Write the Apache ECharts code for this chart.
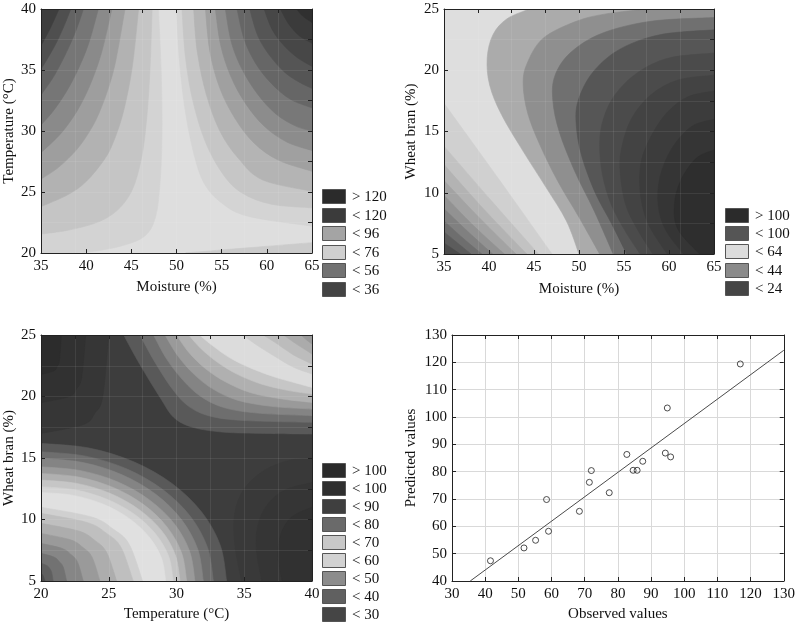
<!DOCTYPE html>
<html><head><meta charset="utf-8">
<script src="https://cdn.jsdelivr.net/npm/echarts@6/dist/echarts.min.js"></script>
<style>html,body{margin:0;padding:0;background:#fff}#c{width:798px;height:624px}</style>
</head><body><div id="c"></div><script>
// ---------- Panel 1: Moisture (x) vs Temperature (y) contour boundaries ----------
const p1Curves = [
  [],
  [[48.0,40],[48.3,35],[48.4,30],[48.2,26],[47.7,23],[46.5,21.4],[44.0,20.6],[40.5,20.1],[38.0,20]],
  [[47.3,40],[47.1,35.67],[46.8,31.88],[46.3,28.53],[45.5,25.96],[44.5,24.4],[43.0,23.23],[41.0,22.45],[38.0,21.87],[35,21.55]],
  [[45.8,40],[45.3,36.39],[44.8,33.91],[44.0,31.23],[43.0,29.08],[42.0,27.65],[40.0,25.86],[38.0,24.79],[35,23.8]],
  [[44.3,40],[43.3,35.85],[42.5,33.62],[41.5,31.6],[40.5,30.12],[39.0,28.52],[37.0,27.06],[35,26.05]],
  [[42.85,40],[41.8,36.69],[40.8,34.45],[39.7,32.6],[38.5,31.07],[37.0,29.63],[35,28.22]],
  [[41.35,40],[40.3,37.23],[39.2,35.2],[38.0,33.47],[36.5,31.78],[35,30.48]],
  [[39.7,40],[39.0,38.49],[38.0,36.74],[36.5,34.58],[35,32.95]],
  [[38.3,40],[37.5,38.52],[36.5,36.95],[35,35.05]],
  [[37.0,40],[36.0,38.38],[35,37.0]],
  [[50.0,40],[50.3,36],[50.9,32],[51.8,28.5],[53.0,25.8],[55.0,24.1],[58.0,23.0],[65,22.2]],
  [[50.6,40],[51.0,36],[51.8,32.5],[53.2,29.1],[55.2,26.4],[57.3,24.9],[60.5,24.0],[65,23.7]],
  [[51.9,40],[52.3,36.5],[53.3,33],[54.8,30],[56.8,27.8],[59.5,26.0],[65,25.06]],
  [[53.2,40],[53.7,36.5],[54.8,33.5],[56.5,31],[58.6,29],[61.3,27.6],[65,26.7]],
  [[54.3,40],[54.9,37],[56.0,34.5],[57.6,32.3],[59.7,30.4],[62.2,29.1],[65,28.4]],
  [[55.4,40],[56.1,37.2],[57.3,35],[59.0,33],[61.0,31.4],[63.2,30.4],[65,30.0]],
  [[56.7,40],[57.5,37.5],[58.8,35.5],[60.5,33.9],[62.6,32.6],[65,31.9]],
  [[58.1,40],[59.0,37.8],[60.3,36.2],[62.0,34.8],[63.6,34.0],[65,33.5]],
  [[59.7,40],[60.6,38.3],[61.9,37.0],[63.4,36.0],[65,35.3]],
  [[61.5,40],[62.4,38.8],[63.6,37.8],[65,37.2]],
  [[63.3,40],[64.0,39.4],[65,38.9]],
  [[51.0,20],[55.0,20.25],[60.0,20.55],[65,20.85]]
];
const p1Close = [[],['bl','tl'],['tl'],['tl'],['tl'],['tl'],['tl'],['tl'],['tl'],['tl'],
  ['tr'],['tr'],['tr'],['tr'],['tr'],['tr'],['tr'],['tr'],['tr'],['tr'],['tr'],['br']];
const p1Fill = ['#dedede','#d3d3d3','#c5c5c5','#b2b2b2','#9e9e9e','#8a8a8a','#767676','#636363','#4f4f4f','#3e3e3e',
  '#d4d4d4','#c6c6c6','#b4b4b4','#a0a0a0','#8c8c8c','#787878','#666666','#555555','#474747','#3b3b3b','#303030','#cbcbcb'];

// ---------- Panel 2: Moisture (x) vs Wheat bran (y) ----------
const p2Curves = [
  [],
  [[35,17.3],[41.0,11.2],[47.0,5]],
  [[35,13.8],[40.2,9.4],[45.5,5]],
  [[35,12.3],[39.5,8.6],[44.2,5]],
  [[35,11.0],[39.0,7.9],[43.0,5]],
  [[35,9.8],[38.3,7.3],[41.7,5]],
  [[35,8.7],[37.7,6.8],[40.4,5]],
  [[35,7.7],[37.1,6.3],[39.2,5]],
  [[35,6.8],[36.5,5.9],[38.0,5]],
  [[35,5.9],[35.9,5.45],[36.8,5]],
  [[44.5,25],[42.0,24.2],[40.44,22.9],[39.8,21.0],[40.07,18.8],[41.37,16.4],[43.78,13.4],[46.37,10.4],[48.6,7.7],[50.0,5]],
  [[57.5,25],[53.0,24.6],[49.7,24.0],[46.0,22.6],[44.2,20.5],[43.8,18.8],[44.3,16.5],[45.6,14.0],[47.6,11.0],[50.0,8.0],[52.3,5]],
  [[65,24.3],[58,24.0],[52.5,23.0],[49.0,21.4],[47.3,19.5],[47.1,17.5],[47.8,15.0],[49.5,11.8],[51.7,8.5],[53.8,5]],
  [[65,23.3],[59,22.9],[54.5,21.7],[51.5,19.8],[49.9,17.5],[49.7,15.5],[50.3,13.0],[51.8,10.0],[53.6,7.5],[55.3,5]],
  [[65,21.4],[60,21.0],[56.5,19.8],[54.0,18.0],[52.7,16.0],[52.3,14.0],[52.6,11.5],[53.6,9.0],[55.2,6.8],[56.8,5]],
  [[65,19.6],[61,19.2],[58,18.0],[55.8,16.0],[54.7,13.5],[54.6,11.5],[55.2,9.0],[56.5,7.0],[58.2,5]],
  [[65,18.3],[62,17.8],[59.5,16.3],[57.6,14.0],[56.8,12.0],[56.9,9.5],[57.8,7.3],[59.8,5]],
  [[65,16.0],[62.5,15.4],[60.3,13.6],[59.0,11.3],[58.8,9.0],[59.6,7.0],[61.6,5]],
  [[65,13.5],[63,12.8],[61.3,11.0],[60.6,9.0],[61.0,7.0],[63.4,5]]
];
const p2Close = [[],['bl'],['bl'],['bl'],['bl'],['bl'],['bl'],['bl'],['bl'],['bl'],
  ['br','tr'],['br','tr'],['br'],['br'],['br'],['br'],['br'],['br'],['br']];
const p2Fill = ['#dedede','#d0d0d0','#c2c2c2','#b3b3b3','#a3a3a3','#929292','#808080','#6e6e6e','#5c5c5c','#4b4b4b',
  '#ababab','#8f8f8f','#707070','#565656','#4b4b4b','#434343','#3c3c3c','#353535','#2e2e2e'];

// ---------- Panel 3: Temperature (x) vs Wheat bran (y) ----------
const p3Curves = [
  [],
  [[25.0,25],[24.55,19.96],[23.97,18.65],[23.15,17.73],[20,17.0]],
  [[23.3,25],[23.0,21.54],[22.62,20.63],[22.08,20.0],[20,19.5]],
  [[21.5,25],[21.36,22.98],[21.19,22.46],[20.95,22.09],[20,21.8]],
  [[26.1,25],[27.3,22.6],[28.8,19.9],[29.8,18.3],[31.2,17.5],[33.5,17.1],[36.5,17.0],[40,16.95]],
  [[27.3,25],[28.4,22.8],[29.7,20.6],[30.9,19.2],[32.5,18.4],[35,18.05],[40,17.9]],
  [[28.3,25],[29.3,23.0],[30.5,21.3],[31.8,20.0],[33.5,19.1],[36,18.65],[40,18.44]],
  [[29.15,25],[30.1,23.3],[31.3,21.8],[32.7,20.6],[34.5,19.7],[37,19.2],[40,18.98]],
  [[30.0,25],[30.9,23.6],[32.1,22.3],[33.6,21.2],[35.5,20.3],[37.8,19.8],[40,19.52]],
  [[30.9,25],[31.8,23.9],[33.0,22.8],[34.5,21.8],[36.3,21.0],[38.2,20.5],[40,20.2]],
  [[31.7,25],[32.7,24.1],[34.0,23.1],[35.5,22.3],[37.2,21.6],[38.8,21.1],[40,20.74]],
  [[34.9,25],[35.9,24.2],[37.2,23.3],[38.6,22.4],[40,21.83]],
  [[36.4,25],[37.4,24.3],[38.6,23.4],[40,22.64]],
  [[37.9,25],[38.8,24.3],[40,23.45]],
  [[39.2,25],[39.6,24.6],[40,24.27]],
  [[20,16.19],[23.55,15.81],[26.85,14.69],[29.69,12.91],[31.86,10.6],[33.23,7.9],[33.7,5]],
  [[20,15.51],[23.29,15.15],[26.36,14.10],[28.99,12.43],[31.02,10.26],[32.29,7.72],[32.72,5]],
  [[20,14.97],[23.10,14.63],[25.99,13.63],[28.47,12.05],[30.37,9.99],[31.57,7.58],[31.98,5]],
  [[20,14.29],[22.94,13.97],[25.68,13.05],[28.03,11.57],[29.84,9.65],[30.97,7.41],[31.36,5]],
  [[20,13.75],[22.78,13.45],[25.38,12.58],[27.60,11.19],[29.31,9.38],[30.38,7.27],[30.75,5]],
  [[20,13.21],[22.66,12.93],[25.13,12.11],[27.25,10.80],[28.89,9.11],[29.91,7.13],[30.26,5]],
  [[20,12.67],[22.53,12.41],[24.88,11.64],[26.90,10.42],[28.45,8.84],[29.43,6.99],[29.76,5]],
  [[20,12.2],[22.38,11.96],[24.6,11.24],[26.5,10.09],[27.97,8.6],[28.89,6.86],[29.2,5]],
  [[27.5,5],[26.5,8.0],[25.3,9.24],[23.75,10.2],[20,11.0]],
  [[26.81,5],[25.9,7.75],[24.82,8.89],[23.4,9.76],[20,10.5]],
  [[25.58,5],[24.83,7.35],[23.95,8.32],[22.79,9.06],[20,9.69]],
  [[24.35,5],[23.77,6.94],[23.08,7.74],[22.18,8.35],[20,8.87]],
  [[23.12,5],[22.7,6.53],[22.21,7.16],[21.56,7.65],[20,8.06]],
  [[21.89,5],[21.64,6.13],[21.34,6.59],[20.95,6.95],[20,7.25]],
  [[20.9,5],[20.78,5.72],[20.64,6.02],[20.45,6.25],[20,6.44]],
  [[20.3,5],[20.15,5.45],[20,5.63]],
  [[34.8,5],[34.3,8],[34.3,10.5],[35.0,12.5],[36.5,14.0],[38.3,14.8],[40,15.0]],
  [[36.3,5],[35.9,7.5],[36.0,9.5],[36.7,11.2],[38.0,12.4],[40,13.0]],
  [[37.8,5],[37.5,7],[37.7,8.8],[38.5,10.2],[40,11.0]]
];
const p3Close = [[],['tl'],['tl'],['tl'],
  ['tr'],['tr'],['tr'],['tr'],['tr'],['tr'],['tr'],['tr'],['tr'],['tr'],['tr'],
  ['bl'],['bl'],['bl'],['bl'],['bl'],['bl'],['bl'],['bl'],
  ['bl'],['bl'],['bl'],['bl'],['bl'],['bl'],['bl'],['bl'],
  ['br'],['br'],['br']];
const p3Fill = ['#3d3d3d','#363636','#313131','#2c2c2c',
  '#595959','#6e6e6e','#848484','#9a9a9a','#b0b0b0','#c6c6c6','#dcdcdc',
  '#cdcdcd','#bcbcbc','#ababab','#9a9a9a',
  '#595959','#6e6e6e','#848484','#9a9a9a','#b0b0b0','#c6c6c6','#d4d4d4','#e0e0e0',
  '#d0d0d0','#bfbfbf','#adadad','#9a9a9a','#868686','#727272','#5f5f5f','#4d4d4d',
  '#393939','#353535','#313131'];

// ---------- Panel 4: observed vs predicted ----------
const observed  = [41.6,51.7,55.2,58.5,59.1,68.4,71.4,72.0,77.4,82.7,84.6,85.8,87.5,94.3,94.9,95.9,116.9];
const predicted = [47.4,52.1,54.9,69.8,58.2,65.5,76.1,80.4,72.3,86.3,80.5,80.5,83.8,86.8,103.3,85.4,119.4];
const fitX = [35.5, 130];
const fitY = [40, 124.4];

// ---------- Legends ----------
const p1LegendLabels = ['> 120','< 120','< 96','< 76','< 56','< 36'];
const p1LegendColors = ['#2b2b2b','#3b3b3b','#a4a4a4','#cfcfcf','#727272','#434343'];
const p2LegendLabels = ['> 100','< 100','< 64','< 44','< 24'];
const p2LegendColors = ['#2b2b2b','#555555','#dcdcdc','#8a8a8a','#454545'];
const p3LegendLabels = ['> 100','< 100','< 90','< 80','< 70','< 60','< 50','< 40','< 30'];
const p3LegendColors = ['#2b2b2b','#2f2f2f','#3f3f3f','#6a6a6a','#c8c8c8','#d2d2d2','#8c8c8c','#606060','#454545'];

const FONT = 'Liberation Serif';
function fmt(p){ return p[0].toFixed(2) + ' ' + p[1].toFixed(2); }
function contourSeries(curves, closes, fills, idx, x0, y0) {
  return {
    type: 'custom', xAxisIndex: idx, yAxisIndex: idx, clip: true, silent: true, animation: false, z: 2,
    data: curves.map((c, i) => [x0, y0, i]),
    renderItem: function (params, api) {
      const i = api.value(2);
      const cs = params.coordSys;
      const corner = { tl: [cs.x, cs.y], tr: [cs.x + cs.width, cs.y], bl: [cs.x, cs.y + cs.height], br: [cs.x + cs.width, cs.y + cs.height] };
      const pts = curves[i].map(p => api.coord(p));
      let d;
      if (!pts.length) {
        d = 'M' + fmt(corner.tl) + 'L' + fmt(corner.tr) + 'L' + fmt(corner.br) + 'L' + fmt(corner.bl) + 'Z';
      } else {
        d = 'M' + fmt(pts[0]);
        for (let k = 0; k < pts.length - 1; k++) {
          const p0 = pts[Math.max(k - 1, 0)], p1 = pts[k], p2 = pts[k + 1], p3 = pts[Math.min(k + 2, pts.length - 1)];
          const c1 = [p1[0] + (p2[0] - p0[0]) / 6, p1[1] + (p2[1] - p0[1]) / 6];
          const c2 = [p2[0] - (p3[0] - p1[0]) / 6, p2[1] - (p3[1] - p1[1]) / 6];
          d += 'C' + fmt(c1) + ' ' + fmt(c2) + ' ' + fmt(p2);
        }
        closes[i].forEach(c => { d += 'L' + fmt(corner[c]); });
        d += 'Z';
      }
      return { type: 'path', shape: { pathData: d }, style: { fill: fills[i], stroke: fills[i], lineWidth: 0.6 } };
    }
  };
}

const grids = [
  { left: 41, top: 9, width: 271, height: 244 },
  { left: 444, top: 9, width: 270, height: 245 },
  { left: 41, top: 335, width: 271, height: 246 },
  { left: 452, top: 335, width: 335, height: 246 }
];
const axCol = '#222';
const faint = 'rgba(255,255,255,0.08)';
function xMain(g, min, max, itv, name, gap, split) {
  return { gridIndex: g, type: 'value', min, max, interval: itv, position: 'bottom', z: split ? 0 : 10,
    axisLine: { show: true, onZero: false, lineStyle: { color: axCol, width: 1 } },
    axisTick: { show: true, inside: true, length: 4, lineStyle: { color: axCol } },
    axisLabel: { fontFamily: FONT, fontSize: 15, color: '#111', margin: 6 },
    splitLine: { show: !!split, lineStyle: { color: '#d9d9d9' } },
    name, nameLocation: 'middle', nameGap: gap, nameTextStyle: { fontFamily: FONT, fontSize: 15, color: '#111' } };
}
function yMain(g, min, max, itv, name, gap, split) {
  return { gridIndex: g, type: 'value', min, max, interval: itv, position: 'left', z: split ? 0 : 10,
    axisLine: { show: true, onZero: false, lineStyle: { color: axCol, width: 1 } },
    axisTick: { show: true, inside: true, length: 4, lineStyle: { color: axCol } },
    axisLabel: { fontFamily: FONT, fontSize: 15, color: '#111', margin: 5 },
    splitLine: { show: !!split, lineStyle: { color: '#d9d9d9' } },
    name, nameLocation: 'middle', nameRotate: 90, nameGap: gap, nameTextStyle: { fontFamily: FONT, fontSize: 15, color: '#111' } };
}
function xSec(g, min, max, itv, split) {
  return { gridIndex: g, type: 'value', min, max, interval: itv, position: 'top', z: 10,
    axisLine: { show: true, onZero: false, lineStyle: { color: axCol, width: 1 } },
    axisTick: { show: true, inside: true, length: 4, lineStyle: { color: axCol } },
    axisLabel: { show: false }, splitLine: { show: split, lineStyle: { color: faint } } };
}
function ySec(g, min, max, itv, split) {
  return { gridIndex: g, type: 'value', min, max, interval: itv, position: 'right', z: 10,
    axisLine: { show: true, onZero: false, lineStyle: { color: axCol, width: 1 } },
    axisTick: { show: true, inside: true, length: 4, lineStyle: { color: axCol } },
    axisLabel: { show: false }, splitLine: { show: split, lineStyle: { color: faint } } };
}

const xAxes = [
  xMain(0, 35, 65, 5, 'Moisture (%)', 27),
  xMain(1, 35, 65, 5, 'Moisture (%)', 28),
  xMain(2, 20, 40, 5, 'Temperature (°C)', 26),
  xMain(3, 30, 130, 10, 'Observed values', 26, true),
  xSec(0, 35, 65, 3.75, true),
  xSec(1, 35, 65, 3.75, true),
  xSec(2, 20, 40, 2.5, true),
  xSec(3, 30, 130, 10, false)
];
const yAxes = [
  yMain(0, 20, 40, 5, 'Temperature (°C)', 24),
  yMain(1, 5, 25, 5, 'Wheat bran (%)', 25),
  yMain(2, 5, 25, 5, 'Wheat bran (%)', 24),
  yMain(3, 40, 130, 10, 'Predicted values', 33, true),
  ySec(0, 20, 40, 2.5, true),
  ySec(1, 5, 25, 2.5, true),
  ySec(2, 5, 25, 2.5, true),
  ySec(3, 40, 130, 10, false)
];

function legend(x, y0, step, labels, colors) {
  const els = [];
  labels.forEach((t, i) => {
    const y = y0 + i * step;
    els.push({ type: 'rect', shape: { x: x + 0.5, y: Math.round(y) + 0.5, width: 23, height: 14 },
      style: { fill: colors[i], stroke: '#555', lineWidth: 1 }, z: 100 });
    els.push({ type: 'text', x: x + 30, y: Math.round(y) + 8,
      style: { text: t, font: '15px "' + FONT + '"', fill: '#111', verticalAlign: 'middle', textAlign: 'left' }, z: 100 });
  });
  return els;
}

const chart = echarts.init(document.getElementById('c'), null, { renderer: 'canvas' });
chart.setOption({
  animation: false,
  backgroundColor: '#ffffff',
  textStyle: { fontFamily: FONT },
  grid: grids,
  xAxis: xAxes,
  yAxis: yAxes,
  series: [
    contourSeries(p1Curves, p1Close, p1Fill, 0, 35, 20),
    contourSeries(p2Curves, p2Close, p2Fill, 1, 35, 5),
    contourSeries(p3Curves, p3Close, p3Fill, 2, 20, 5),
    { type: 'line', xAxisIndex: 3, yAxisIndex: 3, data: fitX.map((x, i) => [x, fitY[i]]), showSymbol: false, symbol: 'none',
      lineStyle: { color: '#4a4a4a', width: 1 }, silent: true, z: 3 },
    { type: 'scatter', xAxisIndex: 3, yAxisIndex: 3, data: observed.map((x, i) => [x, predicted[i]]),
      symbol: 'circle', symbolSize: 6, itemStyle: { color: 'rgba(255,255,255,0)', borderColor: '#222', borderWidth: 1 }, z: 4 }
  ],
  graphic: [].concat(
    legend(322, 189, 18.5, p1LegendLabels, p1LegendColors),
    legend(725, 208, 18.2, p2LegendLabels, p2LegendColors),
    legend(322, 463, 18.0, p3LegendLabels, p3LegendColors)
  )
});
</script></body></html>
